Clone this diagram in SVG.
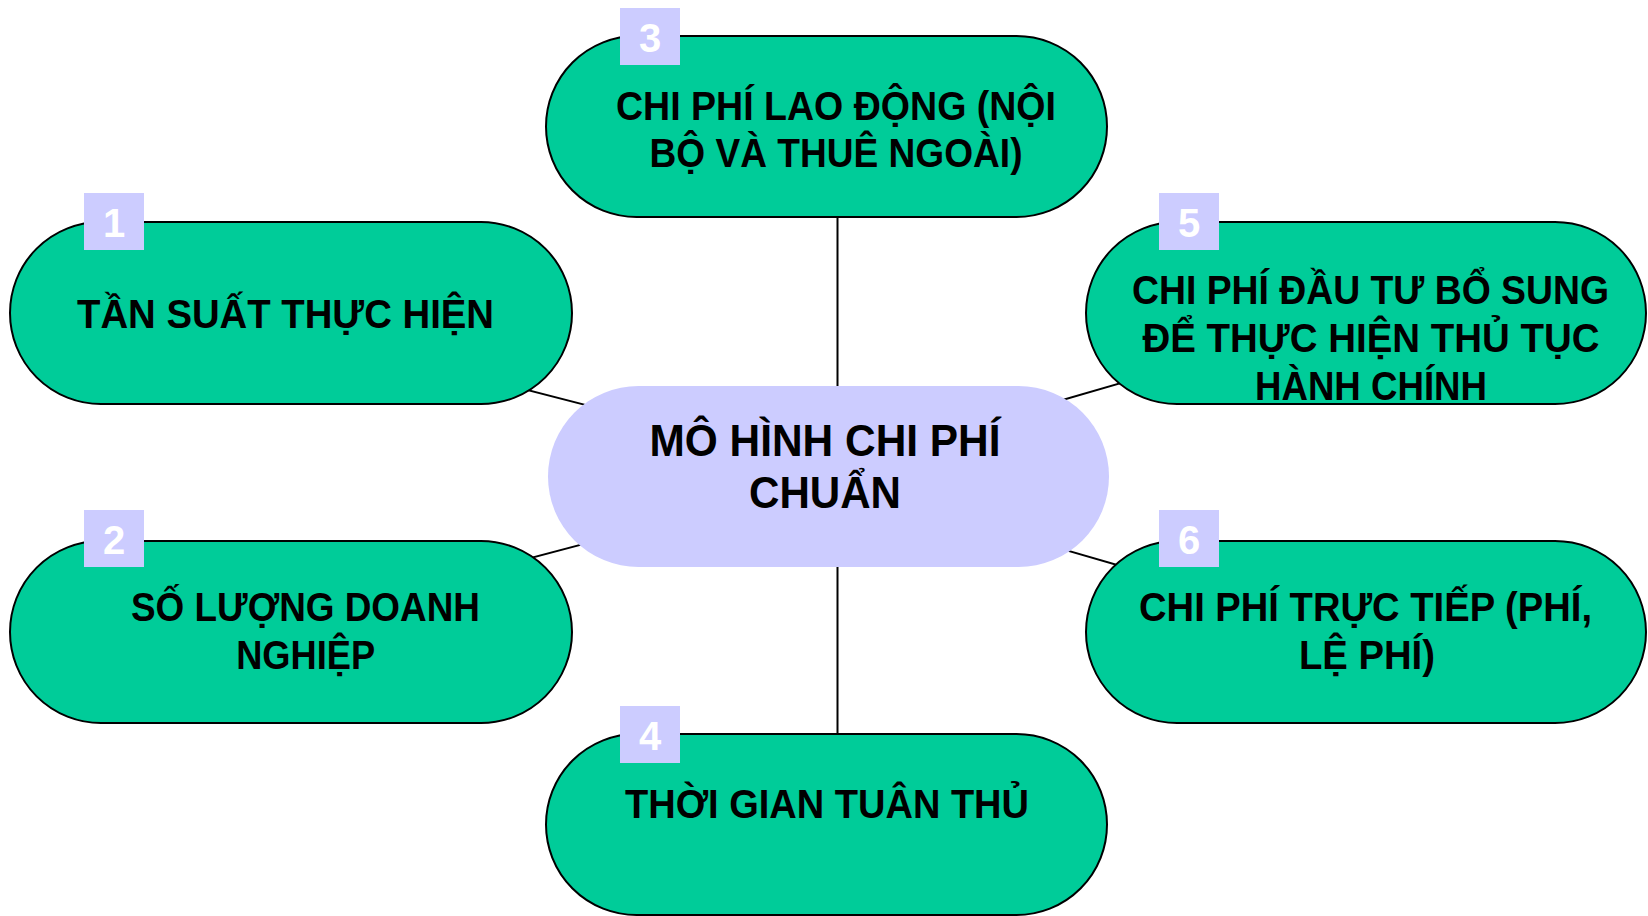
<svg xmlns="http://www.w3.org/2000/svg" width="1648" height="916" viewBox="0 0 1648 916">
<style>
.node{fill:#00CC99;stroke:#000;stroke-width:2}
.center{fill:#CCCCFF}
.lbl{font-family:"Liberation Sans",Arial,sans-serif;font-weight:bold;font-size:41px;fill:#000;text-anchor:middle}
.clbl{font-family:"Liberation Sans",Arial,sans-serif;font-weight:bold;font-size:44px;fill:#000;text-anchor:middle}
.badge{fill:#CCCCFF}
.num{font-family:"Liberation Sans",Arial,sans-serif;font-weight:bold;font-size:40px;fill:#fff;text-anchor:middle}
.conn{stroke:#000;stroke-width:2;fill:none}
</style>
<rect width="1648" height="916" fill="#fff"/>
<g id="connectors">
<line class="conn" x1="837.5" y1="200" x2="837.5" y2="400"/>
<line class="conn" x1="837.5" y1="550" x2="837.5" y2="750"/>
<line class="conn" x1="500" y1="383" x2="620" y2="413.9"/>
<line class="conn" x1="505" y1="564.8" x2="620" y2="534.4"/>
<line class="conn" x1="1040" y1="406.5" x2="1150" y2="374.6"/>
<line class="conn" x1="1040" y1="542.6" x2="1150" y2="574.5"/>
</g>
<g id="node-center">
<rect class="center" x="548" y="386" width="561" height="181" rx="90.5" ry="90.5"/>
<text class="clbl" x="825" y="456" textLength="351" lengthAdjust="spacingAndGlyphs">MÔ HÌNH CHI PHÍ</text>
<text class="clbl" x="825" y="508" textLength="152" lengthAdjust="spacingAndGlyphs">CHUẨN</text>
</g>
<g id="node-1">
<rect class="node" x="10" y="222" width="562" height="182" rx="91" ry="91"/>
<rect class="badge" x="84" y="193" width="60" height="57"/>
<text class="num" x="114" y="237">1</text>
<text class="lbl" x="285.5" y="328" textLength="417" lengthAdjust="spacingAndGlyphs">TẦN SUẤT THỰC HIỆN</text>
</g>
<g id="node-2">
<rect class="node" x="10" y="541" width="562" height="182" rx="91" ry="91"/>
<rect class="badge" x="84" y="510" width="60" height="57"/>
<text class="num" x="114" y="554">2</text>
<text class="lbl" x="305.5" y="621" textLength="349" lengthAdjust="spacingAndGlyphs">SỐ LƯỢNG DOANH</text>
<text class="lbl" x="305.7" y="668.5" textLength="139" lengthAdjust="spacingAndGlyphs">NGHIỆP</text>
</g>
<g id="node-3">
<rect class="node" x="546" y="36" width="561" height="181" rx="90.5" ry="90.5"/>
<rect class="badge" x="620" y="8" width="60" height="57"/>
<text class="num" x="650" y="52">3</text>
<text class="lbl" x="836" y="120" textLength="440" lengthAdjust="spacingAndGlyphs">CHI PHÍ LAO ĐỘNG (NỘI</text>
<text class="lbl" x="836" y="167" textLength="373" lengthAdjust="spacingAndGlyphs">BỘ VÀ THUÊ NGOÀI)</text>
</g>
<g id="node-4">
<rect class="node" x="546" y="734" width="561" height="181" rx="90.5" ry="90.5"/>
<rect class="badge" x="620" y="706" width="60" height="57"/>
<text class="num" x="650" y="750">4</text>
<text class="lbl" x="827" y="818" textLength="404" lengthAdjust="spacingAndGlyphs">THỜI GIAN TUÂN THỦ</text>
</g>
<g id="node-5">
<rect class="node" x="1086" y="222" width="560" height="182" rx="91" ry="91"/>
<rect class="badge" x="1159" y="193" width="60" height="57"/>
<text class="num" x="1189" y="237">5</text>
<text class="lbl" x="1370.5" y="304" textLength="477" lengthAdjust="spacingAndGlyphs">CHI PHÍ ĐẦU TƯ BỔ SUNG</text>
<text class="lbl" x="1371" y="352" textLength="457" lengthAdjust="spacingAndGlyphs">ĐỂ THỰC HIỆN THỦ TỤC</text>
<text class="lbl" x="1371" y="399.5" textLength="232" lengthAdjust="spacingAndGlyphs">HÀNH CHÍNH</text>
</g>
<g id="node-6">
<rect class="node" x="1086" y="541" width="560" height="182" rx="91" ry="91"/>
<rect class="badge" x="1159" y="510" width="60" height="57"/>
<text class="num" x="1189" y="554">6</text>
<text class="lbl" x="1365.5" y="621" textLength="453" lengthAdjust="spacingAndGlyphs">CHI PHÍ TRỰC TIẾP (PHÍ,</text>
<text class="lbl" x="1367" y="668.5" textLength="136" lengthAdjust="spacingAndGlyphs">LỆ PHÍ)</text>
</g>
</svg>
